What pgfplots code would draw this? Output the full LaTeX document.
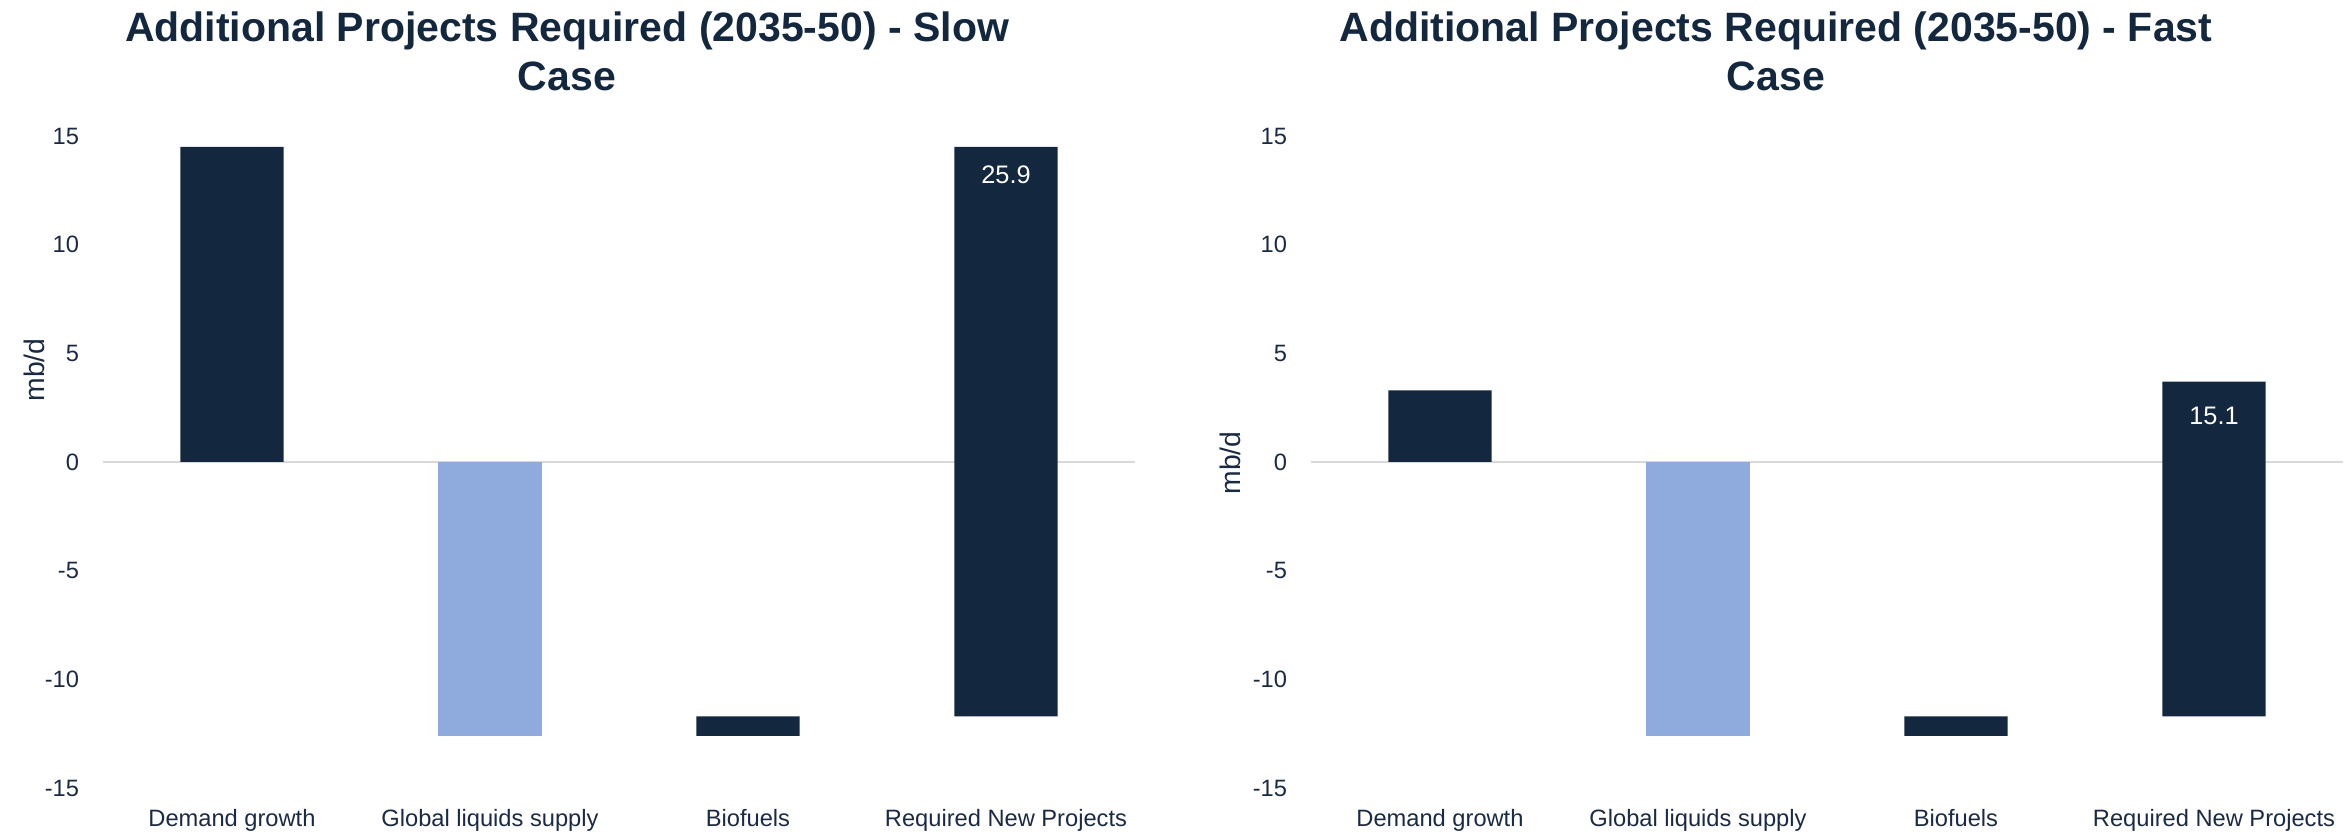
\documentclass[border=0pt]{standalone}
\usepackage{pgfplots}
\pgfplotsset{compat=1.18}
\usepackage{fontspec}
\setmainfont{Liberation Sans}
\definecolor{navy}{HTML}{13273F}
\definecolor{lblue}{HTML}{8FAADC}
\definecolor{txt}{HTML}{1B2A44}
\definecolor{zline}{HTML}{D9D9D9}
\pgfplotsset{
  wf/.style={
    scale only axis, width=309.6pt, height=195.6pt,
    anchor=south west,
    ybar stacked, stack negative=on previous, bar width=0.4,
    xmin=-0.5, xmax=3.5, ymin=-15, ymax=15,
    xtick={0,1,2,3},
    xticklabels={Demand growth, Global liquids supply, Biofuels, Required New Projects},
    ytick={-15,-10,-5,0,5,10,15},
    yticklabels={-15,-10,-5,0,5,10,15},
    axis line style={draw=none},
    major tick length=0pt,
    tick style={draw=none},
    y tick label style={anchor=east, inner sep=0pt, xshift=-7pt, font=\fontsize{7.1}{8}\selectfont, text=txt},
    x tick label style={anchor=base, inner sep=0pt, yshift=-11.7pt, font=\fontsize{7.1}{8}\selectfont, text=txt},
    extra y ticks={0}, extra y tick labels={},
    extra y tick style={grid=major, major grid style={color=zline, line width=0.6pt}},
    clip=false,
  }
}
\begin{document}
\begin{tikzpicture}
\useasboundingbox (0,0) rectangle (705.3pt,250.5pt);
% Left: Slow case
\begin{axis}[wf, at={(30.9pt,14.1pt)}]
\addplot[draw=none, fill=none] coordinates {(0,0) (1,0) (2,-12.6) (3,-11.7)};
\addplot[draw=none, fill=navy] coordinates {(0,14.5) (1,0) (2,0.9) (3,26.2)};
\addplot[draw=none, fill=lblue] coordinates {(0,0) (1,-12.6) (2,0) (3,0)};
\coordinate (labA) at (axis cs:3,13.2);
\end{axis}
% Right: Fast case
\begin{axis}[wf, at={(393.3pt,14.1pt)}]
\addplot[draw=none, fill=none] coordinates {(0,0) (1,0) (2,-12.6) (3,-11.7)};
\addplot[draw=none, fill=navy] coordinates {(0,3.3) (1,0) (2,0.9) (3,15.4)};
\addplot[draw=none, fill=lblue] coordinates {(0,0) (1,-12.6) (2,0) (3,0)};
\coordinate (labB) at (axis cs:3,2.1);
\end{axis}
\node[text=white, font=\fontsize{7.6}{9}\selectfont] at (labA) {25.9};
\node[text=white, font=\fontsize{7.6}{9}\selectfont] at (labB) {15.1};
% titles
\node[align=center, text=navy, font=\fontsize{12.3}{14.7}\selectfont\bfseries] at (170.1pt,235.2pt) {Additional Projects Required (2035-50) - Slow\\Case};
\node[align=center, text=navy, font=\fontsize{12.3}{14.7}\selectfont\bfseries] at (532.8pt,235.2pt) {Additional Projects Required (2035-50) - Fast\\Case};
% y labels
\node[rotate=90, text=txt, font=\fontsize{8.5}{10}\selectfont] at (10.2pt,139.5pt) {mb/d};
\node[rotate=90, text=txt, font=\fontsize{8.5}{10}\selectfont] at (369pt,111.6pt) {mb/d};
\end{tikzpicture}
\end{document}
